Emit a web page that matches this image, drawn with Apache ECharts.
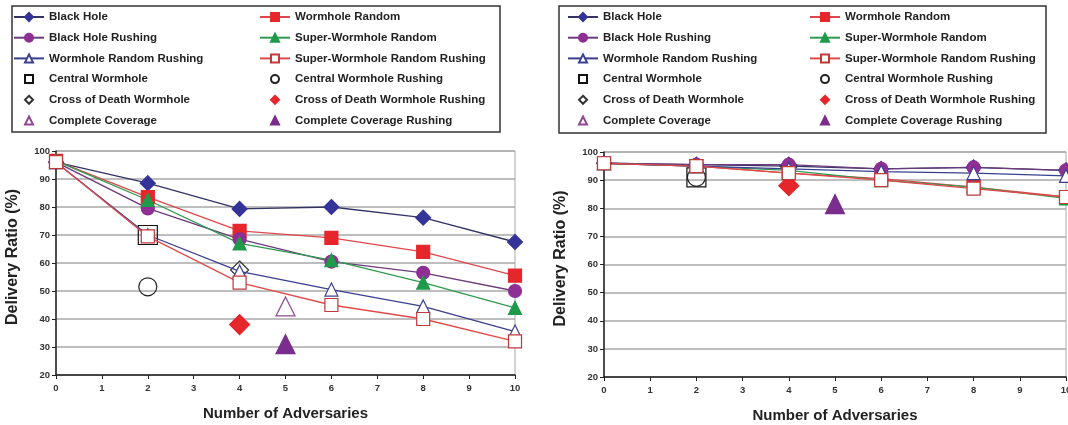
<!DOCTYPE html>
<html>
<head>
<meta charset="utf-8">
<script src="https://cdn.jsdelivr.net/npm/echarts@6/dist/echarts.min.js"></script>
<style>
  html, body { margin: 0; padding: 0; background: #fff; }
  #chart { width: 1068px; height: 425px; }
</style>
</head>
<body>
<div id="chart"></div>
<script>
// x positions (number of adversaries)
const adversaries = [0, 2, 4, 6, 8, 10]

// left panel
const blackHoleL = [96, 88.5, 79.3, 80, 76.2, 67.5]
const wormholeRandomL = [96.5, 83.5, 71.5, 69, 64, 55.5]
const blackHoleRushingL = [96, 79.5, 68.5, 60.5, 56.5, 50]
const superWormholeRandomL = [96.5, 82.5, 67, 61, 53, 44]
const wormholeRandomRushingL = [96, 70, 57, 50.5, 44.5, 35.5]
const superWormholeRandomRushingL = [96, 69.5, 53, 45, 40, 32]
const centralWormholeL = [[2, 70]]
const centralWormholeRushingL = [[2, 51.5]]
const crossOfDeathL = [[4, 57.5]]
const crossOfDeathRushingL = [[4, 38]]
const completeCoverageL = [[5, 44.5]]
const completeCoverageRushingL = [[5, 31]]

// right panel
const blackHoleR = [96, 95.5, 95, 94, 94.5, 93.5]
const wormholeRandomR = [96, 95, 92.5, 90.5, 87.5, 84]
const blackHoleRushingR = [96, 95.5, 95.5, 94, 94.5, 93.5]
const superWormholeRandomR = [96, 95, 93.5, 90, 87.5, 83.5]
const wormholeRandomRushingR = [96, 95, 94, 93, 92.5, 91.5]
const superWormholeRandomRushingR = [96, 95, 92.5, 90, 87, 84]
const centralWormholeR = [[2, 91]]
const centralWormholeRushingR = [[2, 91]]
const crossOfDeathR = [[4, 95]]
const crossOfDeathRushingR = [[4, 88]]
const completeCoverageR = []
const completeCoverageRushingR = [[5, 81.5]]

const yTicks = [20, 100, 10]
const xTicks = [0, 10, 1]

const lineLeftNames = ['Black Hole', 'Black Hole Rushing', 'Wormhole Random Rushing']
const lineRightNames = ['Wormhole Random', 'Super-Wormhole Random', 'Super-Wormhole Random Rushing']
const dotLeftNames = ['Central Wormhole', 'Cross of Death Wormhole', 'Complete Coverage']
const dotRightNames = ['Central Wormhole Rushing', 'Cross of Death Wormhole Rushing', 'Complete Coverage Rushing']

const FONT = 'Liberation Sans, Arial, sans-serif'

function lineSeries(name, values, idx, symbol, size, fill, stroke, lineColor) {
  return {
    name: name,
    type: 'line',
    xAxisIndex: idx,
    yAxisIndex: idx,
    data: adversaries.map((x, i) => [x, values[i]]),
    symbol: symbol,
    symbolSize: size,
    showAllSymbol: true,
    lineStyle: { color: lineColor, width: 1.3 },
    itemStyle: { color: fill, borderColor: stroke, borderWidth: 1.2 },
    emphasis: { disabled: true },
    animation: false,
  }
}

function scatterSeries(name, points, idx, symbol, size, fill, stroke) {
  return {
    name: name,
    type: 'scatter',
    xAxisIndex: idx,
    yAxisIndex: idx,
    data: points,
    symbol: symbol,
    symbolSize: size,
    itemStyle: { color: fill, borderColor: stroke, borderWidth: 1.2, opacity: 1 },
    emphasis: { disabled: true },
    animation: false,
  }
}

function panelSeries(idx, d) {
  return [
    lineSeries('Black Hole', d.bh, idx, 'diamond', 15, '#333399', '#333399', '#333366'),
    lineSeries('Wormhole Random', d.wr, idx, 'rect', 13, '#e5262b', '#e5262b', '#e0474b'),
    lineSeries('Black Hole Rushing', d.bhr, idx, 'circle', 13, '#8e2f94', '#8e2f94', '#6d3a7d'),
    lineSeries('Super-Wormhole Random', d.swr, idx, 'triangle', 13, '#1f9a4a', '#1f9a4a', '#2f9a50'),
    lineSeries('Wormhole Random Rushing', d.wrr, idx, 'triangle', 13, '#ffffff', '#3b3f8f', '#3b3f8f'),
    lineSeries('Super-Wormhole Random Rushing', d.swrr, idx, 'rect', 13, '#ffffff', '#c0393b', '#e04a4a'),
    scatterSeries('Central Wormhole', d.cw, idx, 'rect', 19, 'rgba(0,0,0,0)', '#111'),
    scatterSeries('Central Wormhole Rushing', d.cwr, idx, 'circle', 18, 'rgba(0,0,0,0)', '#222'),
    scatterSeries('Cross of Death Wormhole', d.cod, idx, 'diamond', 18, 'rgba(0,0,0,0)', '#333'),
    scatterSeries('Cross of Death Wormhole Rushing', d.codr, idx, 'diamond', 20, '#e5262b', '#e5262b'),
    scatterSeries('Complete Coverage', d.cc, idx, 'triangle', 19, '#ffffff', '#8e4a92'),
    scatterSeries('Complete Coverage Rushing', d.ccr, idx, 'triangle', 19, '#7a2d8c', '#7a2d8c'),
  ]
}

const legendText = { fontFamily: FONT, fontWeight: 'bold', fontSize: 11.5, color: '#222', lineHeight: 14 }

// line entries: 30px line icon, text starts 5px after it
function lineLegend(left, names) {
  return {
    left: left, top: 10, padding: 0, orient: 'vertical', itemGap: 6.7,
    itemWidth: 30, itemHeight: 10, selectedMode: false,
    data: names, textStyle: legendText,
  }
}

// marker-only entries: small icon centred under the line icons
function dotLegend(left, names) {
  return {
    left: left + 11, top: 10 + 3 * 20.7, padding: 0, orient: 'vertical', itemGap: 6.7,
    itemWidth: 8, itemHeight: 8, selectedMode: false,
    data: names, textStyle: Object.assign({}, legendText, { padding: [0, 0, 0, 11] }),
  }
}

function xAxis(idx) {
  return {
    gridIndex: idx,
    type: 'value',
    min: xTicks[0], max: xTicks[1], interval: xTicks[2],
    name: 'Number of Adversaries',
    nameLocation: 'middle',
    nameGap: 31,
    nameTextStyle: { fontFamily: FONT, fontWeight: 'bold', fontSize: 15, color: '#222' },
    axisLine: { lineStyle: { color: '#222', width: 1.5 } },
    axisTick: { length: 4, lineStyle: { color: '#222' } },
    axisLabel: { fontFamily: FONT, fontWeight: 'bold', fontSize: 9.5, color: '#333', margin: 8 },
    splitLine: { show: false },
  }
}

function yAxis(idx) {
  return {
    gridIndex: idx,
    type: 'value',
    min: yTicks[0], max: yTicks[1], interval: yTicks[2],
    name: 'Delivery Ratio (%)',
    nameLocation: 'middle',
    nameGap: 35,
    nameTextStyle: { fontFamily: FONT, fontWeight: 'bold', fontSize: 16, color: '#222', padding: [0, 0, 0, 12] },
    axisLine: { show: true, lineStyle: { color: '#222', width: 1.5 } },
    axisTick: { show: true, length: 4, lineStyle: { color: '#222' } },
    axisLabel: { fontFamily: FONT, fontWeight: 'bold', fontSize: 9.5, color: '#333', margin: 6 },
    splitLine: { show: true, lineStyle: { color: '#a8a8a8', width: 1.5 } },
  }
}

const chart = echarts.init(document.getElementById('chart'), null, { renderer: 'canvas' })

chart.setOption({
  backgroundColor: '#fff',
  animation: false,
  grid: [
    { left: 56, width: 459, top: 151, height: 224, show: true, borderColor: '#a8a8a8', borderWidth: 1, outerBoundsMode: 'none' },
    { left: 604, width: 462, top: 152, height: 225, show: true, borderColor: '#a8a8a8', borderWidth: 1, outerBoundsMode: 'none' },
  ],
  xAxis: [xAxis(0), xAxis(1)],
  yAxis: [yAxis(0), yAxis(1)],
  legend: [
    lineLegend(13, lineLeftNames),
    lineLegend(259, lineRightNames),
    dotLegend(13, dotLeftNames),
    dotLegend(259, dotRightNames),
    lineLegend(567, lineLeftNames),
    lineLegend(809, lineRightNames),
    dotLegend(567, dotLeftNames),
    dotLegend(809, dotRightNames),
  ],
  graphic: [
    { type: 'rect', shape: { x: 12, y: 6, width: 488, height: 126 }, style: { fill: 'none', stroke: '#333', lineWidth: 1.5 }, silent: true },
    { type: 'rect', shape: { x: 559, y: 6, width: 487, height: 127 }, style: { fill: 'none', stroke: '#333', lineWidth: 1.5 }, silent: true },
  ],
  series: [
    ...panelSeries(0, {
      bh: blackHoleL, wr: wormholeRandomL, bhr: blackHoleRushingL, swr: superWormholeRandomL,
      wrr: wormholeRandomRushingL, swrr: superWormholeRandomRushingL,
      cw: centralWormholeL, cwr: centralWormholeRushingL, cod: crossOfDeathL,
      codr: crossOfDeathRushingL, cc: completeCoverageL, ccr: completeCoverageRushingL,
    }),
    ...panelSeries(1, {
      bh: blackHoleR, wr: wormholeRandomR, bhr: blackHoleRushingR, swr: superWormholeRandomR,
      wrr: wormholeRandomRushingR, swrr: superWormholeRandomRushingR,
      cw: centralWormholeR, cwr: centralWormholeRushingR, cod: crossOfDeathR,
      codr: crossOfDeathRushingR, cc: completeCoverageR, ccr: completeCoverageRushingR,
    }),
  ],
})
</script>
</body>
</html>
